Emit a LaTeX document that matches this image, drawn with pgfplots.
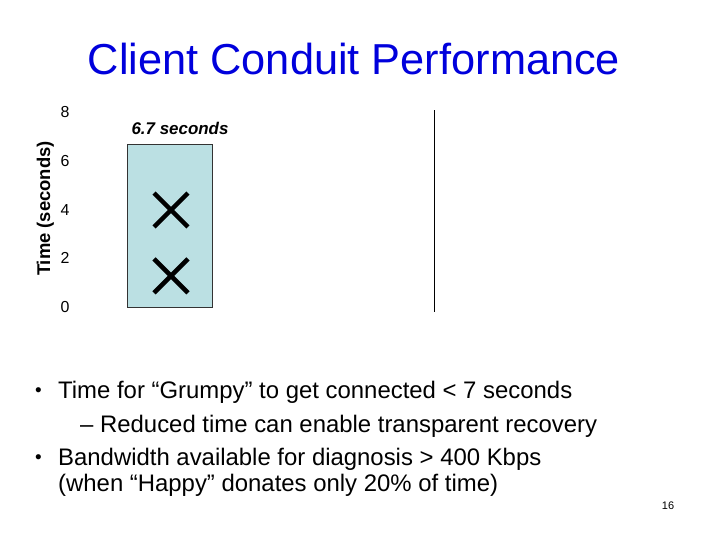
\documentclass[border=0pt]{standalone}
\usepackage{fontspec}
\setmainfont{Liberation Sans}
\usepackage{pgfplots}
\pgfplotsset{compat=1.18}
\definecolor{titleblue}{RGB}{0,0,220}
\definecolor{barblue}{RGB}{187,224,227}
\begin{document}
\begin{tikzpicture}[x=1bp,y=1bp]
\useasboundingbox (0,0) rectangle (720,540);
\fill[white] (0,0) rectangle (720,540);
\node[anchor=base, inner sep=0, text=titleblue, font=\fontsize{43.5}{50}\selectfont] at (354,465) {Client Conduit Performance};
\begin{axis}[
  at={(65bp,233bp)}, anchor=south west,
  scale only axis, width=369bp, height=194.5bp,
  xmin=65, xmax=434, ymin=0, ymax=8,
  axis line style={draw=none},
  xtick=\empty, ytick={0,2,4,6,8},
  major tick length=0pt,
  yticklabel style={anchor=center, inner sep=0pt, font=\fontsize{16}{16}\selectfont},
  /pgf/number format/assume math mode=true,
  clip=false,
  ylabel={Time (seconds)},
  ylabel style={at={(axis cs:50,4.05)}, anchor=base, rotate=0, inner sep=0pt, font=\bfseries\fontsize{18.5}{18.5}\selectfont},
]
\addplot[ybar, bar width=85, fill=barblue, draw=black!80, line width=0.7bp] coordinates {(169.8,6.7)};
\addplot[only marks, mark=x, mark size=24bp, mark options={line width=4.5bp, draw=black}] coordinates {(171,3.99) (171,1.28)};
\draw[black, line width=1bp] (axis cs:434,-0.2) -- (axis cs:434,8.1);
\node[inner sep=0, font=\bfseries\itshape\fontsize{17}{17}\selectfont] at (axis cs:180,7.36) {6.7 seconds};
\end{axis}
\begin{scope}[every node/.style={inner sep=0, font=\fontsize{24}{24}\selectfont}]
\node[anchor=base, font=\fontsize{19}{19}\selectfont] at (38.5,143) {•};
\node[anchor=base west] at (58,141) {Time for “Grumpy” to get connected < 7 seconds};
\node[anchor=base west] at (80,107.3) {– Reduced time can enable transparent recovery};
\node[anchor=base, font=\fontsize{19}{19}\selectfont] at (38.5,76.3) {•};
\node[anchor=base west] at (58,74.3) {Bandwidth available for diagnosis > 400 Kbps};
\node[anchor=base west] at (58,48) {(when “Happy” donates only 20\% of time)};
\end{scope}
\node[anchor=base, inner sep=0, font=\fontsize{11}{11}\selectfont] at (668,30.7) {16};
\end{tikzpicture}
\end{document}
